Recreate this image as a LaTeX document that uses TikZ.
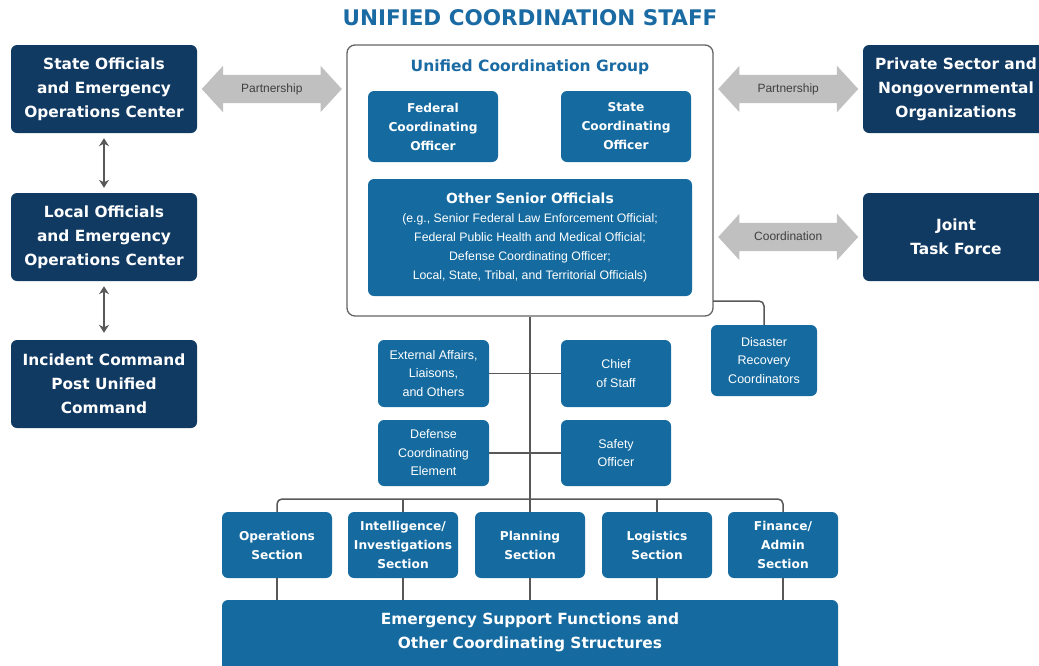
\documentclass[tikz,border=0pt]{standalone}
\usepackage{fontspec}
\setmainfont{Liberation Sans}[BoldFont={DejaVu Sans Bold}]
\usetikzlibrary{shapes.arrows,arrows.meta,calc}
\definecolor{navy}{RGB}{17,58,99}
\definecolor{ublue}{RGB}{21,107,160}
\definecolor{ttl}{RGB}{26,106,163}
\definecolor{conncol}{RGB}{88,88,88}
\definecolor{arrg}{RGB}{192,192,192}
\definecolor{frame}{RGB}{100,100,100}
\begin{document}
\begin{tikzpicture}[x=1pt,y=-1pt,
  navybox/.style={fill=navy, rounded corners=6pt, text=white, align=center, inner sep=0pt,
    minimum width=186pt, minimum height=88pt, font=\fontsize{15.4}{24}\selectfont\bfseries},
  bluebox/.style={fill=ublue, rounded corners=6pt, text=white, align=center, inner sep=0pt},
  boldtxt/.style={font=\fontsize{12.2}{19}\selectfont\bfseries},
  lighttxt/.style={font=\fontsize{12.5}{18.5}\selectfont},
  secbox/.style={bluebox, boldtxt, minimum width=110pt, minimum height=66pt},
  staffbox/.style={bluebox, lighttxt, minimum width=110pt, minimum height=67pt},
  fatarrow/.style={double arrow, fill=arrg, double arrow head extend=9pt, double arrow tip angle=95,
    minimum height=140pt, inner xsep=0pt, inner ysep=8pt, text height=9pt, text depth=3pt,
    font=\fontsize{12}{14}\selectfont, text=black!75},
  conn/.style={draw=conncol, line width=1.5pt},
  dbl/.style={draw=conncol, line width=1.6pt, {Stealth[length=8pt,width=10pt]}-{Stealth[length=8pt,width=10pt]}},
]
\useasboundingbox (0,0) rectangle (1039,665);
\begin{scope}
\clip (0,0) rectangle (1039,665);

% title
\node[font=\fontsize{21.5}{24}\selectfont\bfseries, text=ttl] (title) at (530,17.5) {UNIFIED COORDINATION STAFF};

% left column
\node[navybox] (state) at (104,89) {State Officials\\and Emergency\\Operations Center};
\node[navybox] (local) at (104,237) {Local Officials\\and Emergency\\Operations Center};
\node[navybox] (icp) at (104,384) {Incident Command\\Post Unified\\Command};
\draw[dbl, shorten <=5pt, shorten >=5pt] (state.south) -- (local.north);
\draw[dbl, shorten <=5pt, shorten >=7pt] (local.south) -- (icp.north);

% right column
\node[navybox] (priv) at (956,89) {Private Sector and\\Nongovernmental\\Organizations};
\node[navybox] (jtf) at (956,237) {Joint\\Task Force};

% UCG container
\node[draw=frame, line width=1.3pt, fill=white, rounded corners=8pt, minimum width=366pt, minimum height=271pt, inner sep=0pt] (ucg) at (530,180.5) {};
\node[anchor=base, font=\fontsize{15.5}{18}\selectfont\bfseries, text=ttl] (ucgtitle) at (530,71) {Unified Coordination Group};
\node[bluebox, boldtxt, minimum width=130pt, minimum height=71pt] (fco) at (433,126.5) {Federal\\Coordinating\\Officer};
\node[bluebox, boldtxt, minimum width=130pt, minimum height=71pt] (sco) at (626,126.5) {State\\Coordinating\\Officer};
\node[bluebox, lighttxt, font=\fontsize{12.3}{19.2}\selectfont, minimum width=324pt, minimum height=117pt] (oso) at (530,237.5)
  {{\fontsize{13.9}{19.2}\selectfont\bfseries Other Senior Officials}\\
   (e.g., Senior Federal Law Enforcement Official;\\
   Federal Public Health and Medical Official;\\
   Defense Coordinating Officer;\\
   Local, State, Tribal, and Territorial Officials)};

% fat arrows
\node[fatarrow] (p1) at ($(state.east)!0.5!(ucg.west |- state.east)$) {Partnership};
\node[fatarrow] (p2) at ($(ucg.east |- priv.west)!0.5!(priv.west)$) {Partnership};
\node[fatarrow] (c1) at ($(ucg.east |- jtf.west)!0.5!(jtf.west)$) {Coordination};

% staff
\node[staffbox, minimum width=111pt] (ext) at (433.5,373.5) {External Affairs,\\Liaisons,\\and Others};
\node[staffbox] (chief) at (616,373.5) {Chief\\of Staff};
\node[staffbox, minimum width=111pt, minimum height=66pt] (dce) at (433.5,453) {Defense\\Coordinating\\Element};
\node[staffbox, minimum height=66pt] (safe) at (616,453) {Safety\\Officer};
\node[staffbox, minimum width=106pt, minimum height=71pt] (drc) at (764,360.5) {Disaster\\Recovery\\Coordinators};

% sections
\node[secbox] (ops) at (277,545) {Operations\\Section};
\node[secbox] (intel) at (403,545) {Intelligence/\\Investigations\\Section};
\node[secbox] (plan) at (530,545) {Planning\\Section};
\node[secbox] (log) at (657,545) {Logistics\\Section};
\node[secbox] (fin) at (783,545) {Finance/\\Admin\\Section};

% ESF
\node[bluebox, minimum width=616pt, minimum height=80pt] (esf) at (530,640) {};
\node[text=white, align=center, font=\fontsize{15.4}{24}\selectfont\bfseries] (esftext) at (530,632) {Emergency Support Functions and\\Other Coordinating Structures};

% connectors
\coordinate (bar) at (530,499);
\coordinate (drcA) at (713,301);
\draw[conn] (ucg.south) -- (plan.north);
\draw[conn, rounded corners=5pt] (ops.north) -- (ops.north |- bar) -- (fin.north |- bar) -- (fin.north);
\draw[conn] (intel.north |- bar) -- (intel.north);
\draw[conn] (log.north |- bar) -- (log.north);
\draw[conn] (ext.east) -- (chief.west);
\draw[conn] (dce.east) -- (safe.west);
\draw[conn, rounded corners=5pt] (drcA) -| (drc.north);
\foreach \s in {ops,intel,plan,log,fin}
  \draw[conn] (\s.south) -- (\s.south |- esf.north);
\end{scope}
\end{tikzpicture}
\end{document}
